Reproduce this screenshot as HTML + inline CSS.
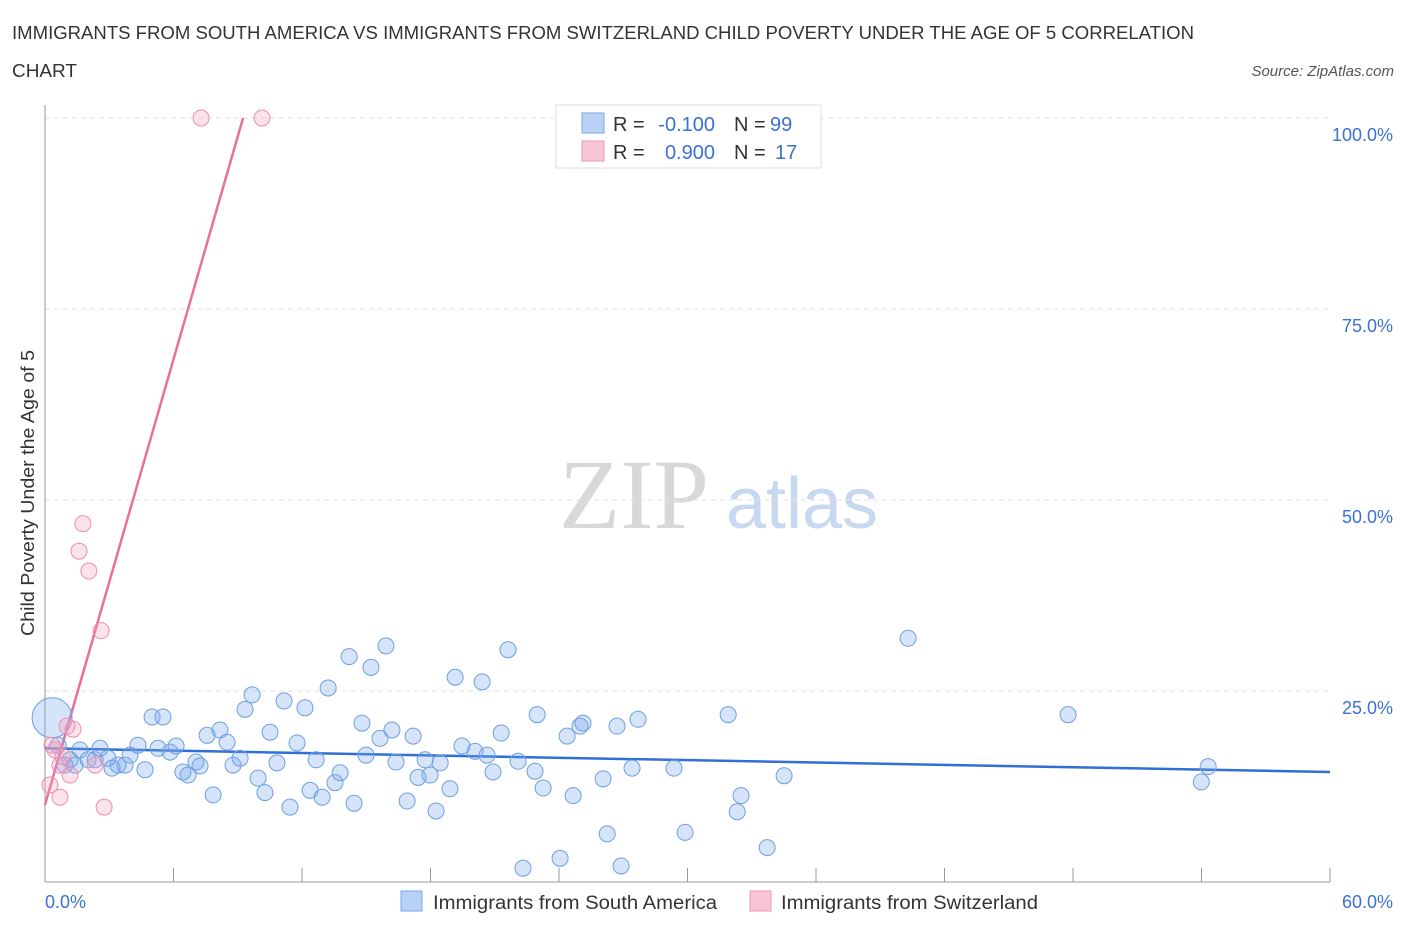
<!DOCTYPE html>
<html><head><meta charset="utf-8"><style>
body{margin:0;background:#fff;font-family:"Liberation Sans",sans-serif;}
svg{display:block}
</style></head><body>
<svg id="chart" width="1406" height="930">
<text x="12" y="39" font-size="18" fill="#333" textLength="1182" lengthAdjust="spacingAndGlyphs">IMMIGRANTS FROM SOUTH AMERICA VS IMMIGRANTS FROM SWITZERLAND CHILD POVERTY UNDER THE AGE OF 5 CORRELATION</text>
<text x="12" y="77" font-size="18" fill="#333" textLength="65" lengthAdjust="spacingAndGlyphs">CHART</text>
<text x="1394" y="76" font-size="15" fill="#555" font-style="italic" text-anchor="end">Source: ZipAtlas.com</text>
<text x="634" y="528" font-size="100" fill="#d8d8d8" text-anchor="middle" font-family="Liberation Serif,serif">ZIP</text>
<text x="802" y="528" font-size="72" fill="#c8d8f0" text-anchor="middle">atlas</text>
<text transform="translate(34,493) rotate(-90)" font-size="18" fill="#333" text-anchor="middle" textLength="286" lengthAdjust="spacingAndGlyphs">Child Poverty Under the Age of 5</text>
<g id="grid"></g><g id="axes"></g><g id="lines"></g><g id="pts"></g>
<g>
<rect x="556" y="105" width="265" height="63" fill="#fff" stroke="#ddd"/>
<rect x="582" y="113" width="22" height="20" fill="#b8d2f5" stroke="#7aa8e8"/>
<rect x="582" y="141" width="22" height="20" fill="#f9c5d5" stroke="#eb98b2"/>
<text x="613" y="131" font-size="20" fill="#333">R =</text>
<text x="715" y="131" font-size="20" fill="#3a72d0" text-anchor="end">-0.100</text>
<text x="734" y="131" font-size="20" fill="#333">N =</text>
<text x="770" y="131" font-size="20" fill="#3a72d0">99</text>
<text x="613" y="159" font-size="20" fill="#333">R =</text>
<text x="715" y="159" font-size="20" fill="#3a72d0" text-anchor="end">0.900</text>
<text x="734" y="159" font-size="20" fill="#333">N =</text>
<text x="775" y="159" font-size="20" fill="#3a72d0">17</text>
</g>
<g>
<rect x="401" y="891" width="21" height="20" fill="#b8d2f5" stroke="#7aa8e8"/>
<text x="433" y="909" font-size="19" fill="#333" textLength="284" lengthAdjust="spacingAndGlyphs">Immigrants from South America</text>
<rect x="750" y="891" width="21" height="20" fill="#f9c5d5" stroke="#eb98b2"/>
<text x="781" y="909" font-size="19" fill="#333" textLength="257" lengthAdjust="spacingAndGlyphs">Immigrants from Switzerland</text>
</g>
</svg>
<script>
const blueX=[0.33,0.61,0.93,1.17,1.40,1.63,2.01,2.34,2.57,2.94,3.13,3.41,3.74,3.97,4.34,4.67,5.00,5.28,5.51,5.84,6.12,6.44,6.68,7.05,7.24,7.57,7.85,8.17,8.50,8.78,9.11,9.34,9.67,9.95,10.27,10.51,10.83,11.16,11.44,11.77,12.14,12.38,12.66,12.94,13.22,13.54,13.78,14.20,14.43,14.80,14.99,15.22,15.64,15.92,16.20,16.39,16.91,17.19,17.42,17.75,17.98,18.26,18.45,18.91,19.15,19.47,20.08,20.41,20.64,20.92,21.30,21.62,22.09,22.32,22.88,22.98,23.26,24.05,24.38,24.66,24.98,25.12,26.06,26.25,26.71,26.90,27.41,27.69,29.37,29.89,31.90,32.32,32.50,33.72,34.51,40.30,47.77,53.99,54.31];
const blueY=[21.5,17.9,15.3,16.0,15.3,17.3,16.0,16.0,17.5,16.2,14.9,15.3,15.3,16.6,17.9,14.7,21.6,17.5,21.6,17.0,17.8,14.4,14.0,15.7,15.2,19.2,11.4,19.9,18.3,15.3,16.2,22.6,24.5,13.6,11.7,19.6,15.6,23.7,9.8,18.2,22.8,12.0,16.0,11.1,25.4,13.0,14.3,29.5,10.3,20.8,16.6,28.1,18.8,30.9,19.9,15.7,10.6,19.1,13.7,16.0,14.0,9.3,15.6,12.2,26.8,17.8,17.1,26.2,16.6,14.4,19.5,30.4,15.8,1.8,14.5,21.9,12.3,3.1,19.1,11.3,20.4,20.8,13.5,6.3,20.4,2.1,14.9,21.3,14.9,6.5,21.9,9.2,11.3,4.5,13.9,31.9,21.9,13.1,15.1];
const pinkX=[7.29,10.13,1.77,1.59,2.05,2.62,1.03,1.31,0.33,0.47,0.70,0.84,1.17,0.23,0.70,2.76,2.34];
const pinkY=[100,100,46.9,43.3,40.7,32.9,20.4,20.0,17.9,17.3,15.3,16.4,14.0,12.7,11.1,9.8,15.3];
const blueTrend=[17.5,14.4];
const pinkTrend=[10.1,100];
const pinkTrendEndX=9.25;
const yTicks=[25,50,75,100];
const xTickCount=10;
const NS="http://www.w3.org/2000/svg";
const X=v=>45+v/60*1285, Y=v=>882-v/100*764;
function mk(p,t,a){const e=document.createElementNS(NS,t);for(const k in a)e.setAttribute(k,a[k]);document.getElementById(p).appendChild(e);return e;}
yTicks.forEach(t=>{
 const l=mk('grid','line',{x1:45,x2:1330,y1:Y(t),y2:Y(t),stroke:'#e2e2e2','stroke-dasharray':'5,4'});
 
 
 const tx=mk('grid','text',{x:1393,y:Y(t)+23,'font-size':18,fill:'#3a72d0','text-anchor':'end'});
 tx.textContent=t.toFixed(1)+'%';
 
 
});
const ax=mk('axes','line',{x1:45,x2:45,y1:105,y2:882,stroke:'#999'});


const bx=mk('axes','line',{x1:45,x2:1330,y1:882,y2:882,stroke:'#999'});


for(let i=1;i<=xTickCount;i++){const v=i*60/xTickCount;
 const t=mk('axes','line',{x1:X(v),x2:X(v),y1:868,y2:882,stroke:'#999'});
 
 }
const x0=mk('axes','text',{x:45,y:908,'font-size':18,fill:'#3a72d0'});x0.textContent='0.0%';


const x1=mk('axes','text',{x:1393,y:908,'font-size':18,fill:'#3a72d0','text-anchor':'end'});x1.textContent='60.0%';


blueX.forEach((v,i)=>{const c=mk('pts','circle',{cx:X(v),cy:Y(blueY[i]),r:i==0?20:8,fill:'rgba(120,165,235,0.3)',stroke:'#6d9fe2','stroke-width':1});
 
 });
pinkX.forEach((v,i)=>{const c=mk('pts','circle',{cx:X(v),cy:Y(pinkY[i]),r:8,fill:'rgba(245,160,190,0.3)',stroke:'#ec8fae','stroke-width':1});
 
 });
const bl=mk('lines','line',{x1:X(0),y1:Y(blueTrend[0]),x2:X(60),y2:Y(blueTrend[1]),stroke:'#2f6fd6','stroke-width':2.5});


const pl=mk('lines','line',{x1:X(0),y1:Y(pinkTrend[0]),x2:X(pinkTrendEndX),y2:Y(pinkTrend[1]),stroke:'#e8709a','stroke-width':2.5});


</script>
</body></html>
